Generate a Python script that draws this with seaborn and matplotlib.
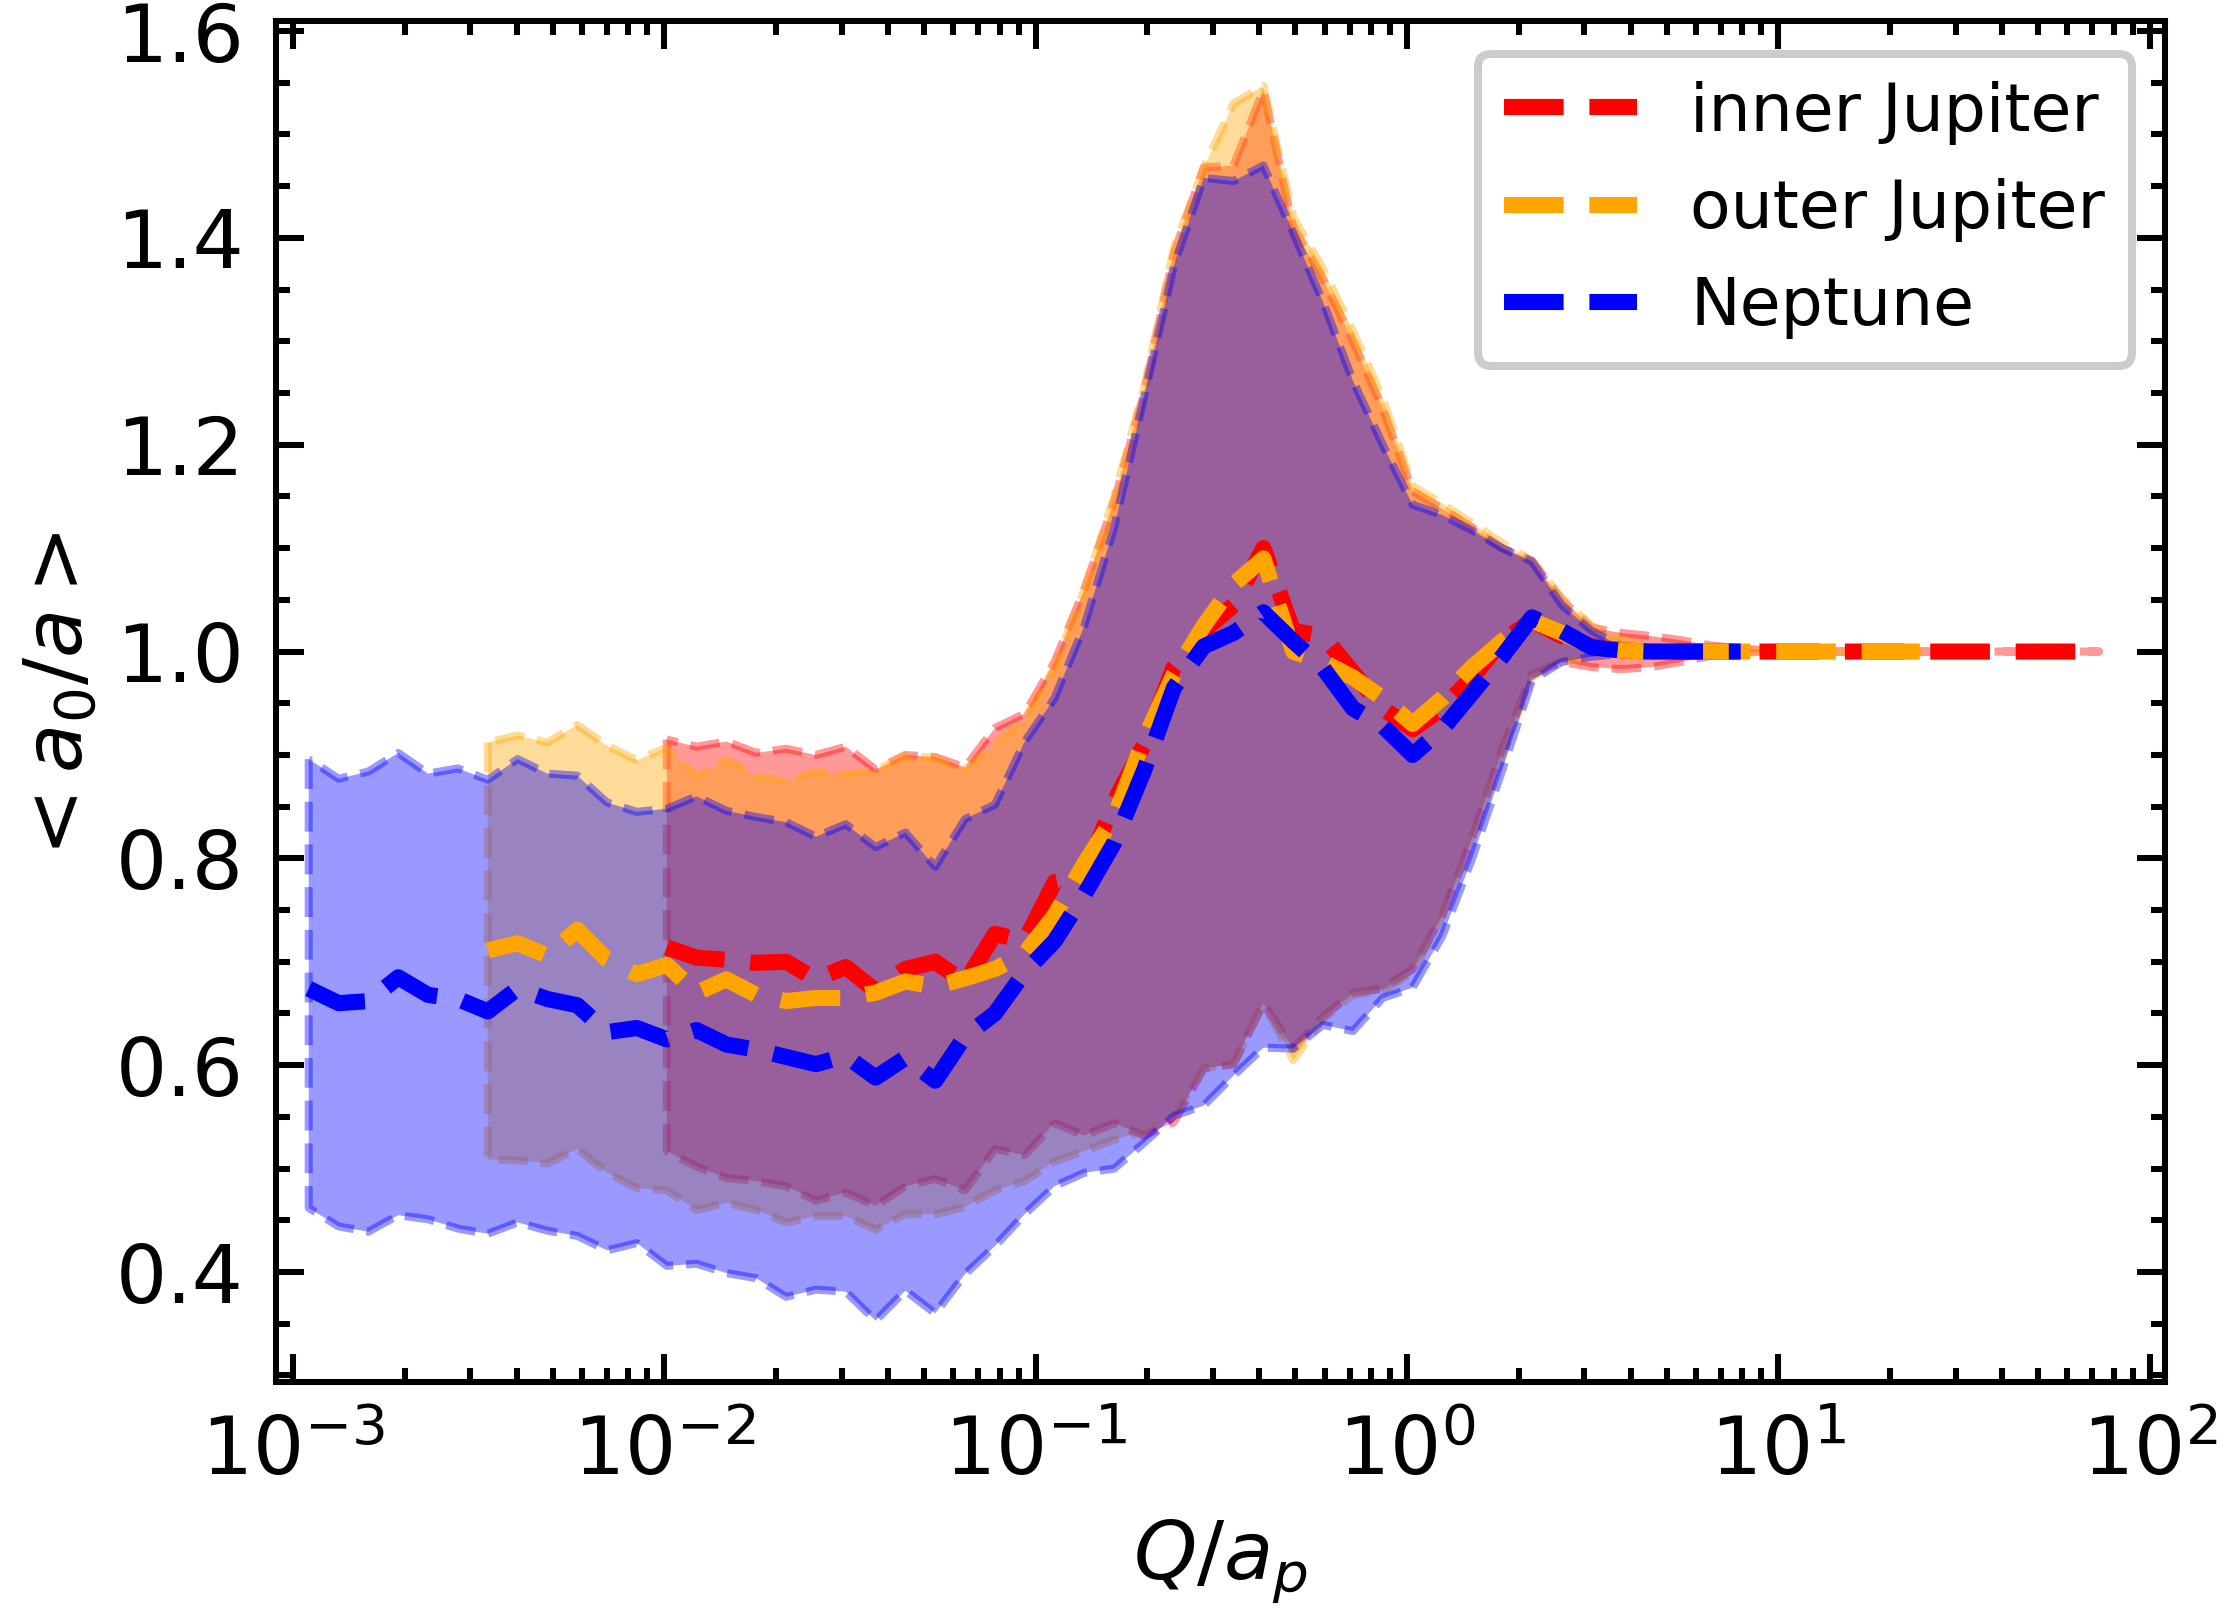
import numpy as np
import pandas as pd
import seaborn as sns
import matplotlib.pyplot as plt
from matplotlib.ticker import AutoMinorLocator

# Q/a_p bin centres (shared grid, each planet covers 49 consecutive bins)
q_grid = [1.102e-3, 1.327e-3, 1.596e-3, 1.920e-3, 2.310e-3, 2.780e-3, 3.345e-3, 4.024e-3, 4.842e-3, 5.826e-3,
          7.010e-3, 8.433e-3, 1.015e-2, 1.221e-2, 1.469e-2, 1.768e-2, 2.127e-2, 2.559e-2, 3.079e-2, 3.705e-2,
          4.457e-2, 5.362e-2, 6.452e-2, 7.764e-2, 9.343e-2, 0.1124, 0.1352, 0.1627, 0.1958, 0.2356,
          0.2835, 0.3410, 0.4104, 0.4937, 0.5942, 0.7148, 0.8601, 1.035, 1.245, 1.498,
          1.803, 2.169, 2.610, 3.141, 3.778, 4.547, 5.470, 6.581, 7.916, 9.528,
          11.46, 13.80, 16.60, 19.97, 24.03, 28.91, 34.78, 41.85, 50.35, 60.58, 72.89]

q_neptune = q_grid[:49]
q_outer = q_grid[6:55]
q_inner = q_grid[12:]

# inner Jupiter
inner_mean = [0.714, 0.704, 0.702, 0.699, 0.700, 0.683, 0.695, 0.672, 0.693, 0.700,
              0.680, 0.727, 0.720, 0.777, 0.783, 0.855, 0.910, 0.985, 1.020, 1.045,
              1.100, 1.020, 1.015, 0.980, 0.945, 0.925, 0.945, 0.975, 1.010, 1.030,
              1.015, 1.005, 1.001, 1.0, 1.0, 1.0, 1.0, 1.0, 1.0, 1.0,
              1.0, 1.0, 1.0, 1.0, 1.0, 1.0, 1.0, 1.0, 1.0]
inner_hi = [0.915, 0.908, 0.913, 0.902, 0.906, 0.900, 0.908, 0.886, 0.900, 0.898,
            0.888, 0.926, 0.940, 0.990, 1.060, 1.145, 1.250, 1.385, 1.468, 1.470,
            1.543, 1.410, 1.360, 1.300, 1.235, 1.155, 1.138, 1.120, 1.100, 1.088,
            1.050, 1.023, 1.018, 1.015, 1.011, 1.006, 1.003, 1.001, 1.0, 1.0,
            1.0, 1.0, 1.0, 1.0, 1.0, 1.0, 1.0, 1.0, 1.0]
inner_lo = [0.517, 0.502, 0.491, 0.488, 0.483, 0.469, 0.477, 0.464, 0.483, 0.490,
            0.479, 0.519, 0.513, 0.544, 0.532, 0.544, 0.532, 0.545, 0.597, 0.601,
            0.660, 0.616, 0.647, 0.670, 0.674, 0.693, 0.745, 0.820, 0.905, 0.978,
            0.990, 0.985, 0.983, 0.985, 0.990, 0.996, 0.999, 1.0, 1.0, 1.0,
            1.0, 1.0, 1.0, 1.0, 1.0, 1.0, 1.0, 1.0, 1.0]

# outer Jupiter
outer_mean = [0.711, 0.718, 0.706, 0.731, 0.702, 0.688, 0.697, 0.670, 0.683, 0.668,
              0.662, 0.665, 0.665, 0.670, 0.681, 0.676, 0.684, 0.693, 0.708, 0.745,
              0.795, 0.840, 0.915, 0.978, 1.025, 1.065, 1.090, 1.000, 0.990, 0.975,
              0.955, 0.930, 0.955, 0.985, 1.010, 1.030, 1.018, 1.005, 1.001, 1.0,
              1.0, 1.0, 1.0, 1.0, 1.0, 1.0, 1.0, 1.0, 1.0]
outer_hi = [0.912, 0.919, 0.912, 0.929, 0.909, 0.895, 0.907, 0.880, 0.896, 0.880,
            0.875, 0.884, 0.882, 0.885, 0.899, 0.897, 0.886, 0.911, 0.935, 0.985,
            1.060, 1.150, 1.255, 1.390, 1.468, 1.530, 1.547, 1.420, 1.370, 1.310,
            1.245, 1.160, 1.143, 1.124, 1.105, 1.088, 1.052, 1.025, 1.012, 1.005,
            1.003, 1.002, 1.001, 1.001, 1.0, 1.0, 1.0, 1.0, 1.0]
outer_lo = [0.509, 0.508, 0.505, 0.519, 0.496, 0.481, 0.479, 0.460, 0.467, 0.460,
            0.448, 0.454, 0.454, 0.441, 0.456, 0.456, 0.463, 0.479, 0.488, 0.507,
            0.517, 0.528, 0.536, 0.551, 0.597, 0.601, 0.660, 0.605, 0.645, 0.668,
            0.672, 0.690, 0.745, 0.820, 0.900, 0.975, 0.990, 0.995, 0.998, 0.999,
            1.0, 1.0, 1.0, 1.0, 1.0, 1.0, 1.0, 1.0, 1.0]

# Neptune
nep_mean = [0.674, 0.660, 0.662, 0.685, 0.668, 0.664, 0.652, 0.674, 0.664, 0.658,
            0.632, 0.636, 0.625, 0.634, 0.620, 0.615, 0.608, 0.601, 0.609, 0.588,
            0.607, 0.585, 0.628, 0.650, 0.690, 0.720, 0.765, 0.815, 0.885, 0.965,
            1.005, 1.018, 1.038, 1.010, 0.984, 0.945, 0.928, 0.900, 0.925, 0.960,
            0.995, 1.033, 1.020, 1.004, 1.001, 1.0, 1.0, 1.0, 1.0]
nep_hi = [0.896, 0.877, 0.884, 0.902, 0.882, 0.887, 0.876, 0.896, 0.882, 0.880,
          0.854, 0.845, 0.848, 0.860, 0.846, 0.840, 0.835, 0.821, 0.833, 0.811,
          0.825, 0.792, 0.838, 0.852, 0.913, 0.955, 1.025, 1.120, 1.246, 1.373,
          1.458, 1.455, 1.470, 1.405, 1.338, 1.262, 1.200, 1.142, 1.132, 1.117,
          1.100, 1.087, 1.045, 1.020, 1.005, 1.003, 1.002, 1.001, 1.001]
nep_lo = [0.462, 0.444, 0.439, 0.455, 0.451, 0.442, 0.437, 0.448, 0.440, 0.435,
          0.421, 0.428, 0.406, 0.408, 0.399, 0.394, 0.376, 0.383, 0.381, 0.353,
          0.382, 0.360, 0.398, 0.425, 0.456, 0.483, 0.496, 0.500, 0.525, 0.551,
          0.561, 0.590, 0.617, 0.616, 0.639, 0.633, 0.665, 0.675, 0.725, 0.800,
          0.885, 0.972, 0.990, 0.995, 0.998, 0.999, 0.999, 1.0, 1.0]

labels = ["inner Jupiter", "outer Jupiter", "Neptune"]
colors = ["red", "orange", "blue"]

sns.set_style("ticks", {"axes.edgecolor": "black", "xtick.color": "black",
                        "ytick.color": "black", "text.color": "black",
                        "axes.labelcolor": "black"})
plt.rcParams['font.family'] = ['DejaVu Sans']
plt.rcParams['mathtext.fontset'] = 'dejavusans'

fig = plt.figure(figsize=(2219 / 290, 1619 / 290), dpi=290)
ax = fig.add_axes([0.1244, 0.1466, 0.8513, 0.8406])

series = [
    (q_inner, inner_lo, inner_mean, inner_hi),
    (q_outer, outer_lo, outer_mean, outer_hi),
    (q_neptune, nep_lo, nep_mean, nep_hi),
]

# spread bands first, mean curves on top
for (q, lo, mid, hi), c in zip(series, colors):
    ax.fill_between(q, lo, hi, color=c, alpha=0.4, linestyle='--', linewidth=2)

for (q, lo, mid, hi), c, lab in zip(series, colors, labels):
    df = pd.DataFrame({"q": q, "ratio": mid})
    sns.lineplot(data=df, x="q", y="ratio", color=c, linestyle='--', linewidth=4,
                 label=lab, ax=ax, legend=False)

ax.set_xscale('log')
ax.set_xlim(9e-4, 1.1e2)
ax.set_ylim(0.294, 1.61)
ax.yaxis.set_minor_locator(AutoMinorLocator(4))

for s in ax.spines.values():
    s.set_linewidth(1.5)
ax.tick_params(which='both', direction='in', top=True, right=True, width=1.5,
               labelsize=20, pad=8)
ax.tick_params(which='major', length=7)
ax.tick_params(which='minor', length=3.5)

ax.set_xlabel(r'$Q/a_p$', fontsize=20, labelpad=6.5)
ax.set_ylabel(r'$<a_0/a>$', fontsize=20)

leg = ax.legend(loc='upper right', fontsize=16.5, edgecolor='0.8', framealpha=1)
leg.get_frame().set_linewidth(2)

fig.savefig('out.png', dpi=290)
